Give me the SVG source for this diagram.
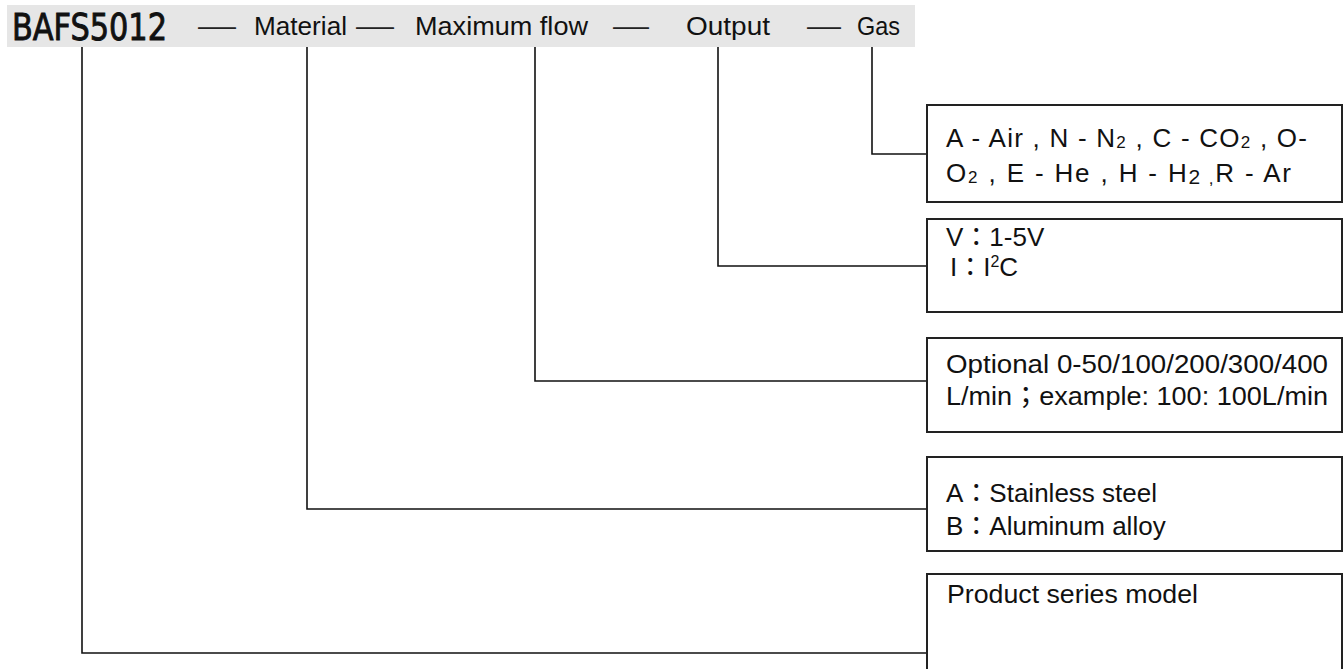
<svg xmlns="http://www.w3.org/2000/svg" width="1343" height="669" viewBox="0 0 1343 669">
<style>
.hdr{font-family:"Liberation Sans",Arial,sans-serif;font-size:26px;fill:#111}
.dash{font-family:"Liberation Sans",Arial,sans-serif;font-size:26px;fill:#222}
.code{font-family:"Liberation Sans Narrow","DejaVu Sans Condensed","Liberation Sans",sans-serif;font-size:38px;fill:#111;stroke:#111;stroke-width:0.9;font-stretch:condensed}
.t{font-family:"Liberation Sans","Noto Sans CJK TC",Arial,sans-serif;font-size:26px;fill:#111}
.box{fill:#fff;stroke:#222;stroke-width:2}
.conn{fill:none;stroke:#111;stroke-width:1.6}
</style>
<rect width="1343" height="669" fill="#fff"/>
<g id="header">
<rect x="7" y="5" width="908" height="42" fill="#e6e6e6"/>
<text class="code" x="12" y="40" textLength="155" lengthAdjust="spacingAndGlyphs">BAFS5012</text>
<text class="dash" x="198" y="35" textLength="38" lengthAdjust="spacingAndGlyphs">—</text>
<text class="hdr" x="254" y="35" textLength="93" lengthAdjust="spacingAndGlyphs">Material</text>
<text class="dash" x="356" y="35" textLength="38" lengthAdjust="spacingAndGlyphs">—</text>
<text class="hdr" x="415" y="35" textLength="173" lengthAdjust="spacingAndGlyphs">Maximum flow</text>
<text class="dash" x="613" y="35" textLength="36" lengthAdjust="spacingAndGlyphs">—</text>
<text class="hdr" x="686" y="35" textLength="84" lengthAdjust="spacingAndGlyphs">Output</text>
<text class="dash" x="807" y="35" textLength="34" lengthAdjust="spacingAndGlyphs">—</text>
<text class="hdr" x="857" y="35" textLength="43" lengthAdjust="spacingAndGlyphs">Gas</text>
</g>
<g id="connectors">
<polyline class="conn" points="82,47 82,653 927,653"/>
<polyline class="conn" points="307,47 307,509 927,509"/>
<polyline class="conn" points="535,47 535,381 927,381"/>
<polyline class="conn" points="718,47 718,266 927,266"/>
<polyline class="conn" points="872,47 872,154 927,154"/>
</g>
<g id="node-gas">
<rect class="box" x="927" y="105" width="415" height="97"/>
<text class="t" x="946" y="147" textLength="361" lengthAdjust="spacing">A - Air , N - N<tspan font-size="17" dy="1">2</tspan><tspan dy="-1"> , C - CO</tspan><tspan font-size="17" dy="1">2</tspan><tspan dy="-1"> , O-</tspan></text>
<text class="t" x="946" y="182" textLength="345" lengthAdjust="spacing">O<tspan font-size="17" dy="1">2</tspan><tspan dy="-1"> , E - He , H - H</tspan><tspan font-size="21" dy="2">2</tspan><tspan font-size="17"> ,</tspan><tspan dy="-2">R - Ar</tspan></text>
</g>
<g id="node-output">
<rect class="box" x="927" y="219" width="415" height="93"/>
<text class="t" x="946" y="246">V：1-5V</text>
<text class="t" x="950" y="276">I：I<tspan font-size="16" dy="-9">2</tspan><tspan dy="9">C</tspan></text>
</g>
<g id="node-flow">
<rect class="box" x="927" y="338" width="415" height="94"/>
<text class="t" x="946" y="373" textLength="382" lengthAdjust="spacingAndGlyphs">Optional 0-50/100/200/300/400</text>
<text class="t" x="946" y="405" textLength="382" lengthAdjust="spacingAndGlyphs">L/min；example: 100: 100L/min</text>
</g>
<g id="node-material">
<rect class="box" x="927" y="457" width="415" height="94"/>
<text class="t" x="946" y="502">A：Stainless steel</text>
<text class="t" x="946" y="535">B：Aluminum alloy</text>
</g>
<g id="node-series">
<rect class="box" x="927" y="574" width="415" height="100"/>
<text class="t" x="947" y="603" textLength="251" lengthAdjust="spacingAndGlyphs">Product series model</text>
</g>
</svg>
